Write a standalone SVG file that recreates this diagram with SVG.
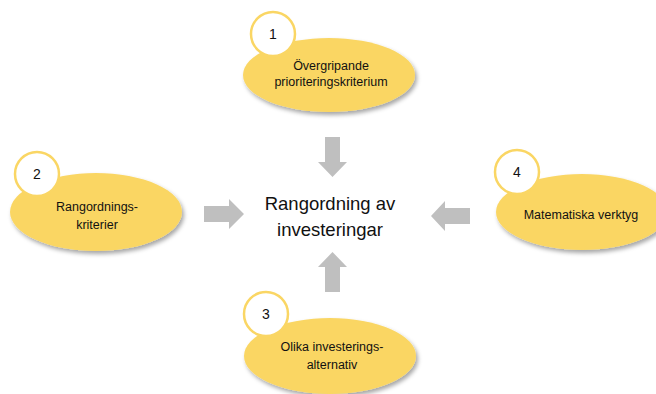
<svg xmlns="http://www.w3.org/2000/svg" width="656" height="394" viewBox="0 0 656 394">
  <defs>
    <filter id="sh" x="-20%" y="-20%" width="140%" height="150%">
      <feDropShadow dx="2" dy="3" stdDeviation="2" flood-color="#000" flood-opacity="0.35"/>
    </filter>
  </defs>
  <style>
    .ell { fill: #FAD664; filter: url(#sh); }
    .num { fill: #ffffff; stroke: #FAD664; stroke-width: 2.5; }
    .t { font-family: "Liberation Sans", Arial, sans-serif; font-size: 12.5px; fill: #111; text-anchor: middle; }
    .n { font-family: "Liberation Sans", Arial, sans-serif; font-size: 14px; fill: #111; text-anchor: middle; }
    .c { font-family: "Liberation Sans", Arial, sans-serif; font-size: 18.5px; fill: #111; text-anchor: middle; }
    .arr { fill: #BFBFBF; }
  </style>
  <rect width="656" height="394" fill="#ffffff"/>

  <g id="connectors">
    <polygon class="arr" points="325,137 340,137 340,162 347,162 332.5,177 318,162 325,162"/>
    <polygon class="arr" points="204,206 229,206 229,199 244,214 229,229 229,222 204,222"/>
    <polygon class="arr" points="470,208 445,208 445,201 431,216 445,231 445,224 470,224"/>
    <polygon class="arr" points="325,292 340,292 340,267 347,267 332.5,252 318,267 325,267"/>
  </g>

  <g id="node-center">
    <text class="c" x="330" y="210">Rangordning av</text>
    <text class="c" x="330" y="236">investeringar</text>
  </g>

  <g id="node-1">
    <ellipse class="ell" cx="329" cy="75" rx="86" ry="37"/>
    <circle class="num" cx="273" cy="34" r="22"/>
    <text class="n" x="273" y="39">1</text>
    <text class="t" x="331" y="70">Övergripande</text>
    <text class="t" x="331" y="86">prioriteringskriterium</text>
  </g>

  <g id="node-2">
    <ellipse class="ell" cx="96" cy="212" rx="86" ry="39"/>
    <circle class="num" cx="37" cy="174" r="22"/>
    <text class="n" x="37" y="179">2</text>
    <text class="t" x="97" y="211">Rangordnings-</text>
    <text class="t" x="97" y="229">kriterier</text>
  </g>

  <g id="node-4">
    <ellipse class="ell" cx="582" cy="212" rx="86" ry="38"/>
    <circle class="num" cx="517" cy="172" r="22"/>
    <text class="n" x="517" y="177">4</text>
    <text class="t" x="581" y="219">Matematiska verktyg</text>
  </g>

  <g id="node-3">
    <ellipse class="ell" cx="330" cy="356" rx="86" ry="38"/>
    <circle class="num" cx="266" cy="314" r="22"/>
    <text class="n" x="266" y="319">3</text>
    <text class="t" x="332" y="351">Olika investerings-</text>
    <text class="t" x="332" y="369">alternativ</text>
  </g>
</svg>
